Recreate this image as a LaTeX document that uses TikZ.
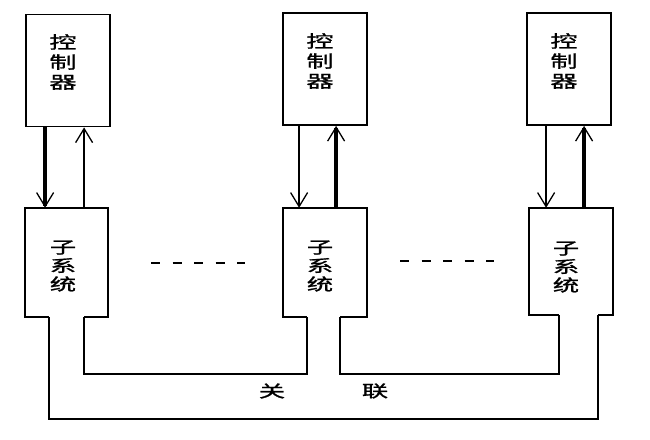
\documentclass[tikz,border=0pt]{standalone}
\usepackage{fontspec}
\newfontfamily\cjk[FakeStretch=1.6,FakeBold=1.2]{Noto Sans CJK SC}
\usetikzlibrary{arrows.meta,calc}
\begin{document}
\begin{tikzpicture}[x=1pt,y=-1pt,
  ctrl/.style={draw, line width=1.8pt, minimum width=84pt, minimum height=112pt, inner sep=0pt},
  subbox/.style={minimum width=84pt, minimum height=109pt, inner sep=0pt},
  outline/.style={line width=1.8pt},
  ctext/.style={font=\cjk\fontsize{17}{20}\selectfont, align=center, inner sep=0pt},
  stext/.style={font=\cjk\fontsize{16.5}{18.5}\selectfont, align=center, inner sep=0pt},
  ltext/.style={font=\cjk\fontsize{16.5}{18}\selectfont, inner sep=0pt},
  vtip/.tip={Straight Barb[length=14pt,width=17pt,line width=1.3pt]},
  bararrow/.style={line width=3.4pt, -vtip},
  thinarrow/.style={line width=1.4pt, -vtip},
  link/.style={line width=2pt},
  outerlink/.style={line width=1.5pt},
  dashline/.style={line width=1.6pt, dash pattern=on 9pt off 12.5pt}
]
\useasboundingbox (0,0) rectangle (650,439);

% controllers
\node[ctrl] (c1) at (68,70.5) {};
\node[ctrl] (c2) at (325,69) {};
\node[ctrl] (c3) at (569,69) {};
\node[ctext] (c1t) at (63,62) {控\\制\\器};
\node[ctext] (c2t) at (320,61) {控\\制\\器};
\node[ctext] (c3t) at (564,61) {控\\制\\器};

% subsystems
\node[subbox, minimum width=83pt] (s1) at (66.5,262.5) {};
\node[subbox] (s2) at (325,262.5) {};
\node[subbox, minimum height=107pt] (s3) at (571,261.5) {};
\node[stext] (s1t) at (63,266) {子\\系\\统};
\node[stext] (s2t) at (320,266) {子\\系\\统};
\node[stext] (s3t) at (566,267) {子\\系\\统};

% opening points at the bottom of the subsystems
\coordinate (s1L) at ([xshift=24pt]s1.south west);
\coordinate (s1R) at ([xshift=-24pt]s1.south east);
\coordinate (s2L) at ([xshift=24pt]s2.south west);
\coordinate (s2R) at ([xshift=-27pt]s2.south east);
\coordinate (s3L) at ([xshift=30pt]s3.south west);
\coordinate (s3R) at ([xshift=-15pt]s3.south east);
\coordinate (bus) at (0,374);
\coordinate (outer) at (0,419);

% subsystem outlines
\draw[outline] (s1L) -- (s1.south west) -- (s1.north west) -- (s1.north east) -- (s1.south east) -- (s1R);
\draw[outline] (s2L) -- (s2.south west) -- (s2.north west) -- (s2.north east) -- (s2.south east) -- (s2R);
\draw[outline] (s3L) -- (s3.south west) -- (s3.north west) -- (s3.north east) -- (s3.south east) -- (s3R);

% controller <-> subsystem arrows
\draw[bararrow] ([xshift=20pt]c1.south west) -- ([xshift=20pt]c1.south west |- s1.north);
\draw[thinarrow] ([xshift=59pt]c1.south west |- s1.north) -- ([xshift=59pt]c1.south west);
\draw[thinarrow] ([xshift=17pt]c2.south west) -- ([xshift=17pt]c2.south west |- s2.north);
\draw[bararrow] ([xshift=54pt]c2.south west |- s2.north) -- ([xshift=54pt]c2.south west);
\draw[thinarrow] ([xshift=20pt]c3.south west) -- ([xshift=20pt]c3.south west |- s3.north);
\draw[bararrow] ([xshift=58pt]c3.south west |- s3.north) -- ([xshift=58pt]c3.south west);

% interconnections
\draw[link] (s1R) -- (s1R |- bus) -- (s2L |- bus) -- (s2L);
\draw[link] (s2R) -- (s2R |- bus) -- (s3L |- bus) -- (s3L);
\draw[outerlink] (s1L) -- (s1L |- outer) -- (s3R |- outer) -- (s3R);

\node[ltext] (l1) at (272,391) {关};
\node[ltext] (l2) at (375,391) {联};

% ellipsis dashes
\draw[dashline] (151,263) -- (245,263);
\draw[dashline] (400,261) -- (494,261);
\end{tikzpicture}
\end{document}
